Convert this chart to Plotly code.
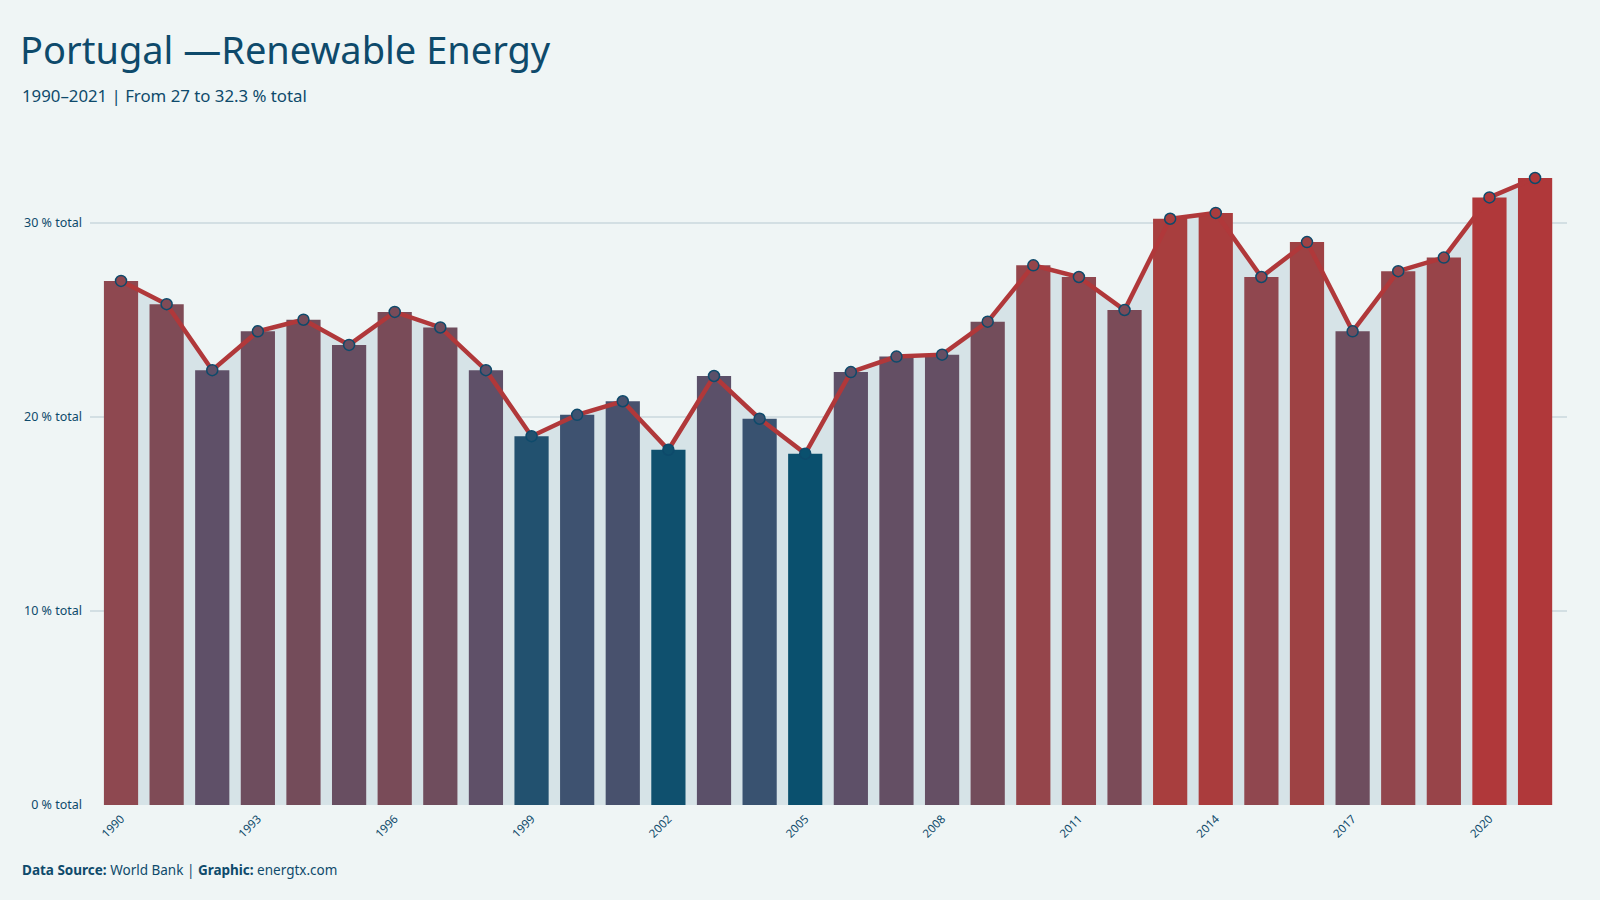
import plotly.graph_objects as go

years = list(range(1990, 2022))
values = [27.0, 25.8, 22.4, 24.4, 25.0, 23.7, 25.4, 24.6, 22.4, 19.0,
          20.1, 20.8, 18.3, 22.1, 19.9, 18.1, 22.3, 23.1, 23.2, 24.9,
          27.8, 27.2, 25.5, 30.2, 30.5, 27.2, 29.0, 24.4, 27.5, 28.2,
          31.3, 32.3]
tick_years = [1990, 1993, 1996, 1999, 2002, 2005, 2008, 2011, 2014, 2017, 2020]
y_ticks = [0, 10, 20, 30]
y_ticktext = [f"{v} % total" for v in y_ticks]

BG = "#eff5f5"
DARK = "#0e4a6b"
RED = "#b0383a"
colorscale = [
    [0.0, "#0a506e"], [0.15, "#3e5270"], [0.32, "#5e5068"], [0.5, "#704d5c"],
    [0.67, "#8e4850"], [0.9, "#a63f3f"], [1.0, "#b0383a"],
]
cmin, cmax = 18.1, 31.3

fig = go.Figure()
# area under line (bottom subplot)
fig.add_trace(go.Scatter(x=years, y=values, mode="lines", line=dict(width=0),
                         fill="tozeroy", fillcolor="#d6e3e7", hoverinfo="skip",
                         xaxis="x", yaxis="y", showlegend=False))
# bars (overlay subplot)
fig.add_trace(go.Bar(x=years, y=values, width=0.75,
                     marker=dict(color=values, colorscale=colorscale, cmin=cmin, cmax=cmax,
                                 line=dict(width=0)),
                     xaxis="x2", yaxis="y2", showlegend=False))
fig.add_trace(go.Scatter(x=years, y=values, mode="lines+markers",
                         line=dict(color=RED, width=4.5),
                         marker=dict(size=11, color=values, colorscale=colorscale, cmin=cmin, cmax=cmax,
                                     line=dict(color=DARK, width=1.5)),
                         xaxis="x2", yaxis="y2", showlegend=False))

xr = [1989.32, 2021.7]
yr = [0, 34]
TFONT = "Noto Sans, Open Sans, sans-serif"
fig.update_layout(
    width=1600, height=900,
    paper_bgcolor=BG, plot_bgcolor=BG,
    margin=dict(l=90, r=33, t=145, b=95),
    bargap=0.25,
    xaxis=dict(range=xr, tickvals=tick_years, ticktext=[str(y) for y in tick_years],
               tickangle=-45, tickfont=dict(family=TFONT, size=11.5, color=DARK),
               showgrid=False, zeroline=False, showline=False, ticks="",
               ticklabelstandoff=4),
    yaxis=dict(range=yr, tickvals=y_ticks, ticktext=y_ticktext,
               tickfont=dict(family=TFONT, size=12.5, color=DARK),
               showgrid=True, gridcolor="#d3dfe3", gridwidth=2, zeroline=False,
               showline=False, ticks="", ticklabelstandoff=7),
    xaxis2=dict(range=xr, overlaying="x", visible=False, showgrid=False),
    yaxis2=dict(range=yr, overlaying="y", visible=False, showgrid=False),
    title=dict(text="Portugal —Renewable Energy", xref="container", yref="container",
               x=20/1600, xanchor="left", y=1-37/900, yanchor="top",
               font=dict(family=TFONT, size=38, color=DARK)),
    annotations=[
        dict(text="1990–2021 | From 27 to 32.3 % total", xref="paper", yref="paper",
             x=(20-90)/1477, y=(805-95)/660, xanchor="left", yanchor="middle", showarrow=False,
             font=dict(family=TFONT, size=16.8, color=DARK)),
        dict(text="<b>Data Source:</b> World Bank | <b>Graphic:</b> energtx.com",
             xref="paper", yref="paper", x=(20-90)/1477, y=(805-870)/660,
             xanchor="left", yanchor="middle", showarrow=False,
             font=dict(family=TFONT, size=13.5, color=DARK)),
    ],
)

fig.write_html("out.html")
